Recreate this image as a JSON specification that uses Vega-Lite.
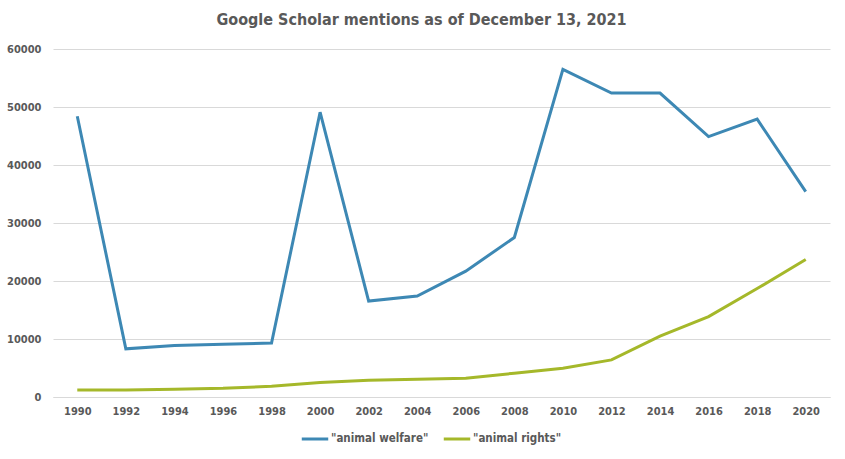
{
  "$schema": "https://vega.github.io/schema/vega-lite/v6.json",
  "width": 777,
  "height": 348,
  "autosize": "none",
  "padding": {"left": 53, "top": 49, "right": 15, "bottom": 62},
  "background": "white",
  "title": {
    "text": "Google Scholar mentions as of December 13, 2021",
    "font": "DejaVu Sans Condensed",
    "fontSize": 16,
    "fontWeight": "bold",
    "color": "#595959",
    "anchor": "middle",
    "dx": -20,
    "offset": 15
  },
  "data": {
    "values": [
      {"year": "1990", "series": "\"animal welfare\"", "value": 48400},
      {"year": "1992", "series": "\"animal welfare\"", "value": 8300},
      {"year": "1994", "series": "\"animal welfare\"", "value": 8900},
      {"year": "1996", "series": "\"animal welfare\"", "value": 9100},
      {"year": "1998", "series": "\"animal welfare\"", "value": 9300},
      {"year": "2000", "series": "\"animal welfare\"", "value": 49100},
      {"year": "2002", "series": "\"animal welfare\"", "value": 16550},
      {"year": "2004", "series": "\"animal welfare\"", "value": 17400},
      {"year": "2006", "series": "\"animal welfare\"", "value": 21700},
      {"year": "2008", "series": "\"animal welfare\"", "value": 27500},
      {"year": "2010", "series": "\"animal welfare\"", "value": 56500},
      {"year": "2012", "series": "\"animal welfare\"", "value": 52400},
      {"year": "2014", "series": "\"animal welfare\"", "value": 52400},
      {"year": "2016", "series": "\"animal welfare\"", "value": 44900},
      {"year": "2018", "series": "\"animal welfare\"", "value": 47900},
      {"year": "2020", "series": "\"animal welfare\"", "value": 35400},
      {"year": "1990", "series": "\"animal rights\"", "value": 1200},
      {"year": "1992", "series": "\"animal rights\"", "value": 1200},
      {"year": "1994", "series": "\"animal rights\"", "value": 1350},
      {"year": "1996", "series": "\"animal rights\"", "value": 1500},
      {"year": "1998", "series": "\"animal rights\"", "value": 1850},
      {"year": "2000", "series": "\"animal rights\"", "value": 2500},
      {"year": "2002", "series": "\"animal rights\"", "value": 2900},
      {"year": "2004", "series": "\"animal rights\"", "value": 3050},
      {"year": "2006", "series": "\"animal rights\"", "value": 3250},
      {"year": "2008", "series": "\"animal rights\"", "value": 4100},
      {"year": "2010", "series": "\"animal rights\"", "value": 4950},
      {"year": "2012", "series": "\"animal rights\"", "value": 6400},
      {"year": "2014", "series": "\"animal rights\"", "value": 10500},
      {"year": "2016", "series": "\"animal rights\"", "value": 13850},
      {"year": "2018", "series": "\"animal rights\"", "value": 18700},
      {"year": "2020", "series": "\"animal rights\"", "value": 23700}
    ]
  },
  "mark": {"type": "line", "strokeWidth": 3, "strokeJoin": "miter", "strokeCap": "butt"},
  "encoding": {
    "x": {
      "field": "year",
      "type": "ordinal",
      "scale": {"type": "point", "padding": 0.5},
      "axis": {
        "title": null,
        "labelAngle": 0,
        "ticks": false,
        "domain": true,
        "domainColor": "#d9d9d9",
        "labelFont": "DejaVu Sans Condensed",
        "labelFontWeight": "bold",
        "labelFontSize": 11,
        "labelColor": "#595959",
        "labelPadding": 8
      }
    },
    "y": {
      "field": "value",
      "type": "quantitative",
      "scale": {"domain": [0, 60000]},
      "axis": {
        "title": null,
        "values": [0, 10000, 20000, 30000, 40000, 50000, 60000],
        "format": "d",
        "ticks": false,
        "domain": false,
        "gridColor": "#d9d9d9",
        "labelFont": "DejaVu Sans Condensed",
        "labelFontWeight": "bold",
        "labelFontSize": 11,
        "labelColor": "#595959",
        "labelPadding": 12
      }
    },
    "color": {
      "field": "series",
      "type": "nominal",
      "scale": {
        "domain": ["\"animal welfare\"", "\"animal rights\""],
        "range": ["#3D88B4", "#A5B82A"]
      },
      "legend": {
        "title": null,
        "orient": "none",
        "legendX": 247,
        "legendY": 375,
        "direction": "horizontal",
        "symbolType": "stroke",
        "symbolSize": 700,
        "symbolStrokeWidth": 3,
        "columnPadding": 8,
        "labelOffset": 1,
        "labelFont": "DejaVu Sans Condensed",
        "labelFontWeight": "bold",
        "labelFontSize": 11.5,
        "labelColor": "#595959"
      }
    }
  },
  "config": {"view": {"stroke": null}}
}
